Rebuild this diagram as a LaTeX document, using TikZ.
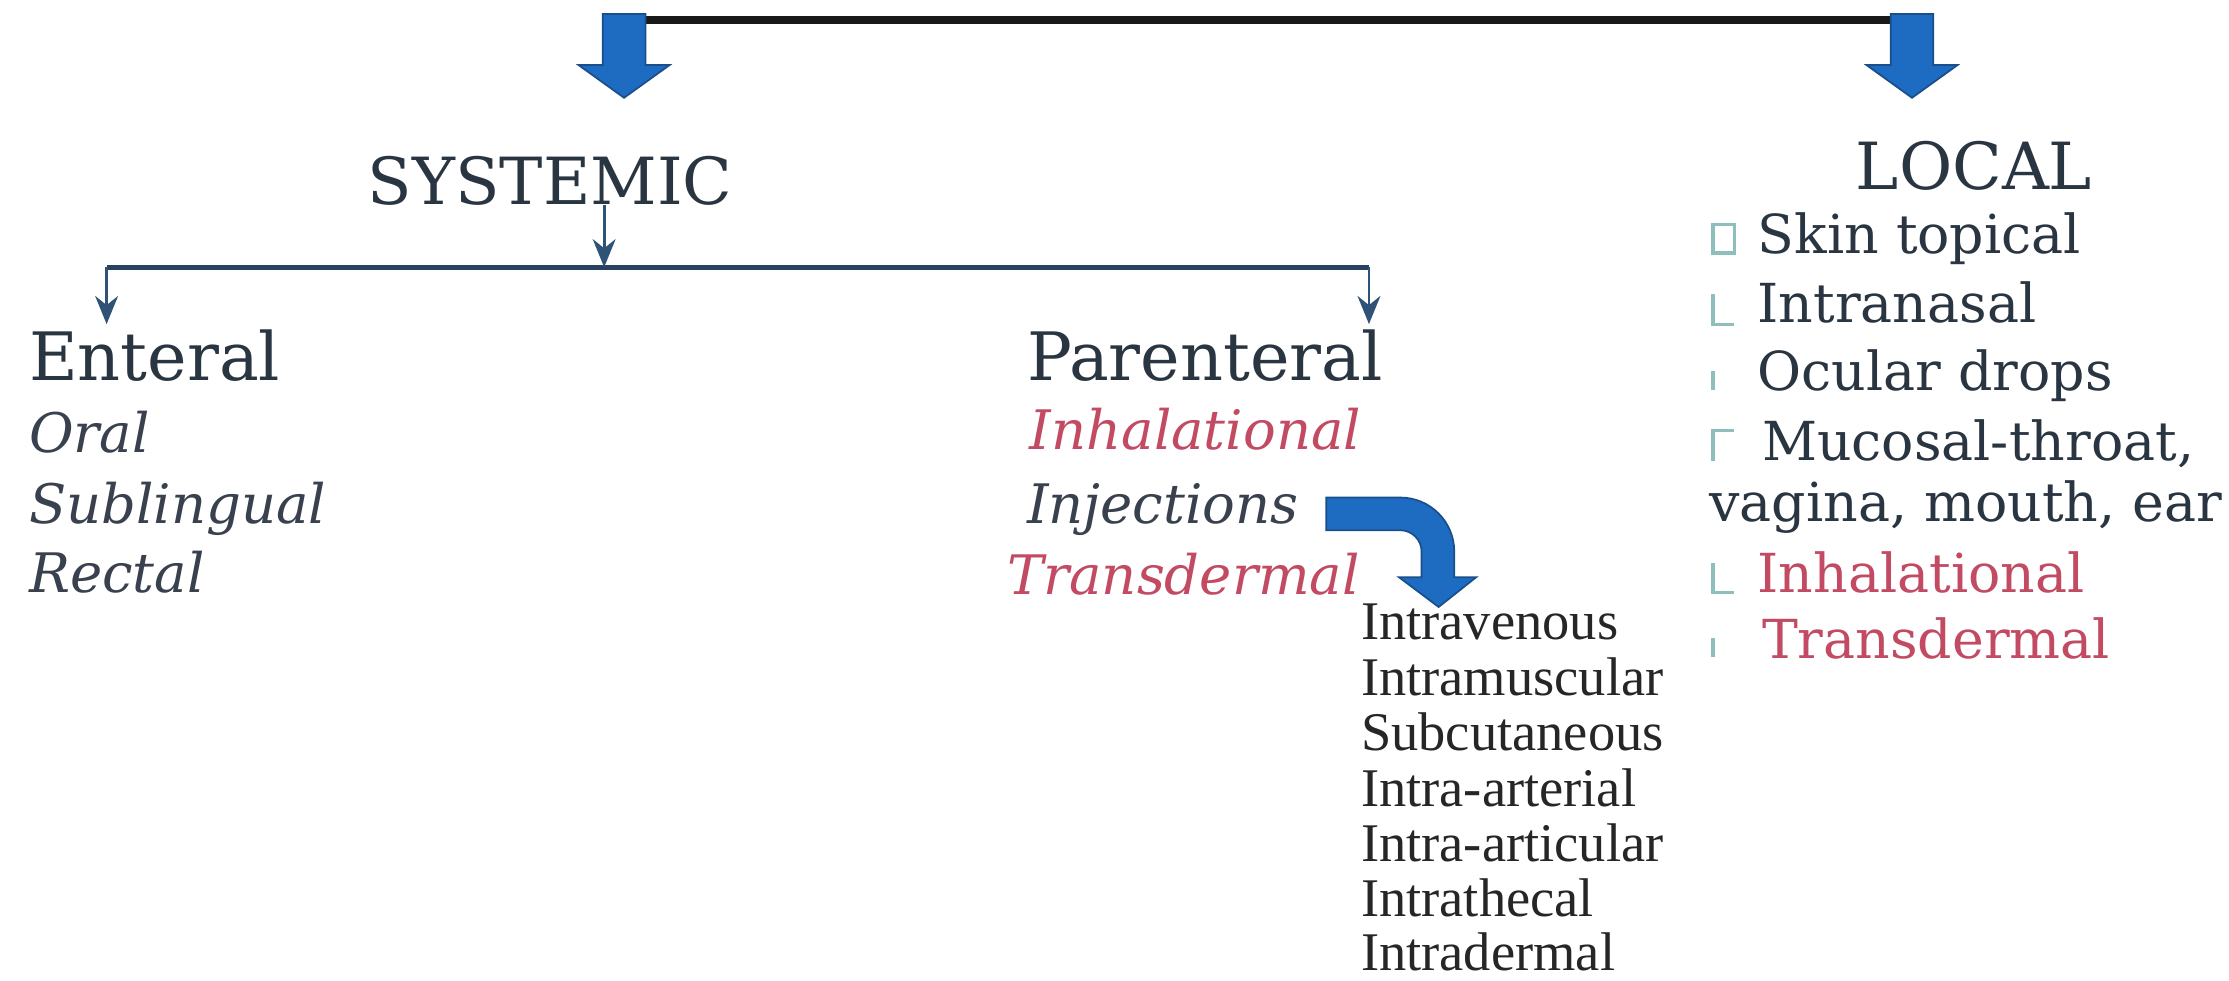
\documentclass[tikz,border=0pt]{standalone}
\usepackage{fontspec}
\setmainfont{DejaVu Serif}
\newfontfamily\injfont{Liberation Serif}
\usetikzlibrary{arrows.meta}
\definecolor{txtdark}{HTML}{2A3542}
\definecolor{txtital}{HTML}{39414F}
\definecolor{txtred}{HTML}{C24B63}
\definecolor{blockblue}{HTML}{1E6BC2}
\definecolor{blockedge}{HTML}{1A4F8C}
\definecolor{linesteel}{HTML}{2F5376}
\definecolor{boxteal}{HTML}{8FBFBC}
\tikzset{pics/downblock/.style={code={
  \path[blockarrow] (-15,0) -- (15,0) -- (15,36) -- (32,36) -- (0,59) -- (-32,36) -- (-15,36) -- cycle;}}}
\begin{document}
\begin{tikzpicture}[x=0.0142156cm,y=-0.0142156cm,
  headtxt/.style={font=\fontsize{19}{22}\selectfont, text=txtdark, inner sep=0, anchor=base west},
  titletxt/.style={font=\fontsize{18.5}{22}\selectfont, text=txtdark, inner sep=0},
  subtxt/.style={font=\fontsize{15.5}{18}\selectfont\itshape, text=txtital, inner sep=0, anchor=base west},
  redsub/.style={subtxt, text=txtred},
  loctxt/.style={font=\fontsize{15.3}{18}\selectfont, text=txtdark, inner sep=0, anchor=base west},
  redloc/.style={loctxt, text=txtred},
  injtxt/.style={font=\injfont\fontsize{15.5}{16}\selectfont, text=black!85, inner sep=0, anchor=base west},
  thinarrow/.style={draw=linesteel, line width=0.8pt, -{Stealth[length=8pt,width=6.5pt]}},
  busline/.style={draw=linesteel!80!black, line width=1.3pt},
  topline/.style={draw=black!90, line width=2.1pt},
  blockarrow/.style={fill=blockblue, draw=blockedge, line width=0.5pt, line join=miter},
  boxmark/.style={draw=boxteal, line width=0.9pt}
]
\useasboundingbox[fill=white] (0,0) rectangle (1568,690);

% top bar and block arrows
\coordinate (topL) at (439,14);
\coordinate (topR) at (1345,14);
\draw[topline] (topL) -- ([xshift=0.2cm]topR);
\pic at ([yshift=0.06cm]topL) {downblock};
\pic at ([yshift=0.06cm]topR) {downblock};

% headings
\node[titletxt, anchor=base] (systemic) at (387,144) {SYSTEMIC};
\node[titletxt, anchor=base west] (local) at (1305,133) {LOCAL};

% systemic branching
\coordinate (busM) at (425,188);
\coordinate (busL) at (75,188);
\coordinate (busR) at (963,188);
\draw[busline] (busL) -- (busR);
\draw[thinarrow] (systemic.base -| busM) -- (busM);
\draw[thinarrow] (busL) -- ++(0,40);
\draw[thinarrow] (busR) -- ++(0,40);

% enteral
\node[headtxt] (enteral) at (20,268) {Enteral};
\node[subtxt] (oral) at (20,318) {Oral};
\node[subtxt] (subl) at (20,368) {Sublingual};
\node[subtxt] (rectal) at (20,417) {Rectal};

% parenteral
\node[headtxt] (parent) at (722,268) {Parenteral};
\node[redsub] (inhal) at (724,316) {Inhalational};
\node[subtxt] (inject) at (722,368) {Injections};
\node[redsub] (transd) at (708,418) {Transdermal};

% curved block arrow from Injections
\coordinate (cstart) at (933,361.5);
\begin{scope}[shift={(cstart)}]
\path[blockarrow] (0,-11.5) -- (52,-11.5) arc[start angle=-90,end angle=0,radius=38]
  -- (90,44.5) -- (105.5,44.5) -- (79,65.5) -- (51,44.5) -- (67,44.5) -- (67,26.5)
  arc[start angle=0,end angle=-90,radius=15] -- (0,11.5) -- cycle;
\end{scope}

% injection list
\node[injtxt] (iv) at (957,450) {Intravenous};
\node[injtxt] (im) at (957,489) {Intramuscular};
\node[injtxt] (sc) at (957,528) {Subcutaneous};
\node[injtxt] (ia) at (957,567) {Intra-arterial};
\node[injtxt] (iart) at (957,606) {Intra-articular};
\node[injtxt] (ith) at (957,645) {Intrathecal};
\node[injtxt] (id) at (957,683) {Intradermal};

% local list
\node[loctxt] (skin) at (1236,178) {Skin topical};
\node[loctxt] (nasal) at (1236,227) {Intranasal};
\node[loctxt] (ocular) at (1236,275) {Ocular drops};
\node[loctxt] (mucosal) at (1239,324) {Mucosal-throat,};
\node[loctxt] (vagina) at (1202,367) {vagina, mouth, ear};
\node[redloc] (linhal) at (1236,417) {Inhalational};
\node[redloc] (ltrans) at (1239,463) {Transdermal};

% missing-glyph box marks
\draw[boxmark] (1205,158) rectangle (1220,178);
\draw[boxmark] (1205,207) -- (1205,228) -- (1220,228);
\draw[boxmark] (1205,261) -- (1205,274);
\draw[boxmark] (1205,324) -- (1205,303) -- (1220,303);
\draw[boxmark] (1205,396) -- (1205,417) -- (1220,417);
\draw[boxmark] (1205,449) -- (1205,462);
\end{tikzpicture}
\end{document}
